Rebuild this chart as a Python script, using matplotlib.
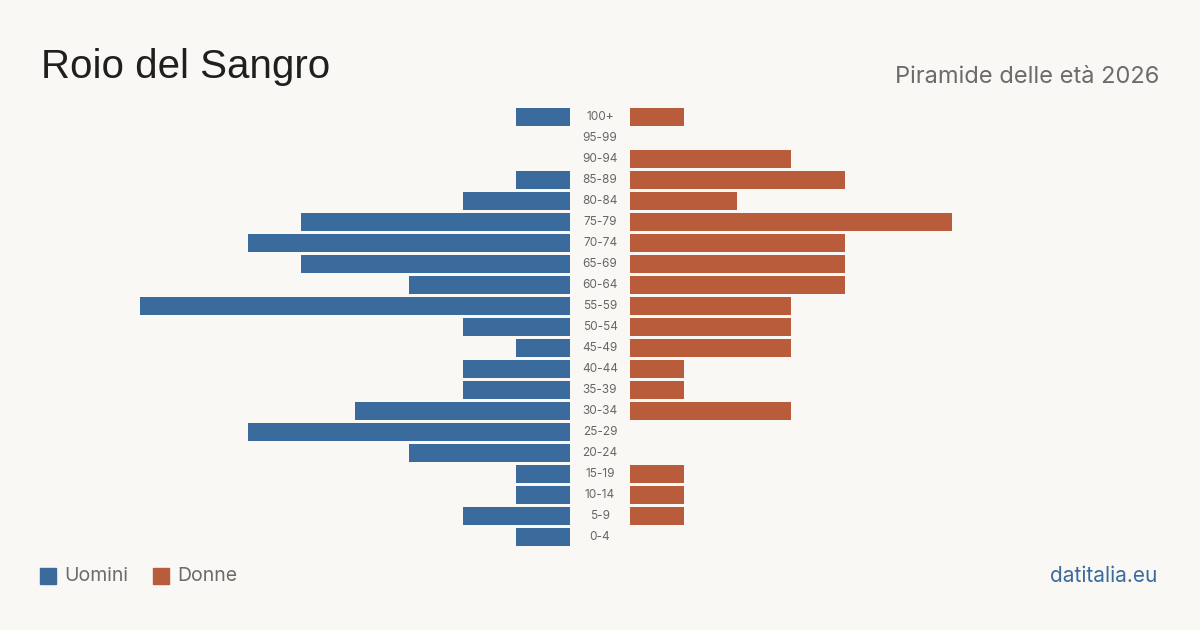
import matplotlib.pyplot as plt
from matplotlib.patches import Rectangle

# Dati
eta = ['0-4', '5-9', '10-14', '15-19', '20-24', '25-29', '30-34', '35-39', '40-44',
       '45-49', '50-54', '55-59', '60-64', '65-69', '70-74', '75-79', '80-84',
       '85-89', '90-94', '95-99', '100+']
uomini = [1, 2, 1, 1, 3, 6, 4, 2, 2, 1, 2, 8, 3, 5, 6, 5, 2, 1, 0, 0, 1]
donne = [0, 1, 1, 1, 0, 0, 3, 1, 1, 3, 3, 3, 4, 4, 4, 6, 2, 4, 3, 0, 1]

blu = '#3b6b9c'
arancio = '#b95c3c'
sfondo = '#f9f8f4'
W, H = 1200, 630

plt.rcParams['font.family'] = ['Inter', 'DejaVu Sans']
fig = plt.figure(figsize=(12, 6.3), dpi=100, facecolor=sfondo)

def px_axes(x0, x1, ytop, ybot):
    return fig.add_axes([x0 / W, 1 - ybot / H, (x1 - x0) / W, (ybot - ytop) / H])

scala = 53.7  # px per persona
ytop, ybot = 106.5, 547.5
ax_u = px_axes(30, 570, ytop, ybot)
ax_d = px_axes(630, 1170, ytop, ybot)
lim = 540 / scala
pos = list(range(len(eta)))

ax_u.barh(pos, uomini, height=0.81, color=blu)
ax_u.set_xlim(lim, 0)
ax_d.barh(pos, donne, height=0.81, color=arancio)
ax_d.set_xlim(0, lim)
for ax in (ax_u, ax_d):
    ax.set_ylim(-0.5, len(eta) - 0.5)
    ax.axis('off')
    ax.set_facecolor('none')

ax_l = px_axes(570, 630, ytop, ybot)
ax_l.set_xlim(0, 1)
ax_l.set_ylim(-0.5, len(eta) - 0.5)
ax_l.axis('off')
for i, lab in enumerate(eta):
    ax_l.text(0.5, i, lab, ha='center', va='center', fontsize=8.5, color='#666666')

# Testi
fig.text(41 / W, 1 - 67 / H, 'Roio del Sangro', fontsize=29,
         family=['Liberation Sans', 'DejaVu Sans'], color='#1f1f1f',
         va='center', ha='left')
fig.text(1159 / W, 1 - 77 / H, 'Piramide delle età 2026', fontsize=17, color='#6b6b6b',
         va='center', ha='right')
fig.text(1157 / W, 1 - 576 / H, 'datitalia.eu', fontsize=15, color=blu,
         va='center', ha='right')

# Legenda
fig.patches.append(Rectangle((40 / W, 1 - 584 / H), 16 / W, 16 / H, transform=fig.transFigure,
                             color=blu))
fig.text(64 / W, 1 - 576 / H, 'Uomini', fontsize=14, color='#6b6b6b', va='center')
fig.patches.append(Rectangle((153 / W, 1 - 584 / H), 16 / W, 16 / H, transform=fig.transFigure,
                             color=arancio))
fig.text(177 / W, 1 - 576 / H, 'Donne', fontsize=14, color='#6b6b6b', va='center')

fig.savefig('out.png', dpi=100, facecolor=sfondo)
